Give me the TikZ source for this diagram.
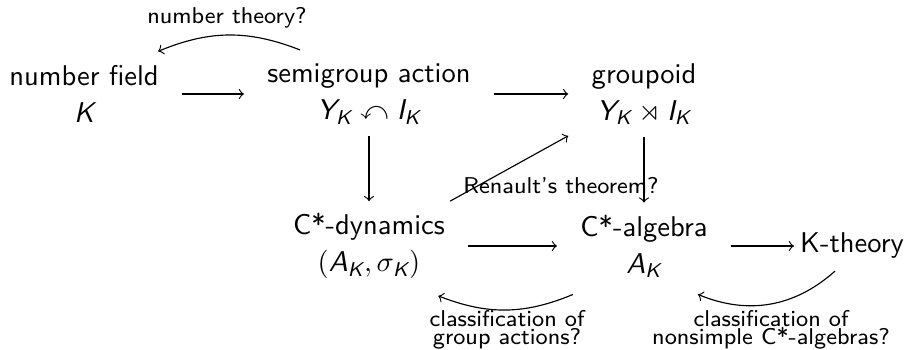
\documentclass[tikz,border=0pt]{standalone}
\usepackage{xcolor}
\usepackage{tikz}
\usepackage{amsmath}
\usepackage{amssymb}
\usetikzlibrary{calc}

\newcommand{\sfm}[1]{\textsf{\slshape #1}}

\begin{document}
\begin{tikzpicture}[x=0.35pt,y=0.35pt,
    every node/.style={font=\sffamily},
    obj/.style={align=center, inner xsep=8pt, inner ysep=4pt},
    single/.style={inner sep=2pt},
    note/.style={font=\sffamily\footnotesize, align=center, inner sep=1pt},
    arr/.style={->}]
    \useasboundingbox (0,0) rectangle (910,-349);
    % objects of the diagram
    \node[obj] (field) at (84,-94) {number field\\[1pt]$\sfm{K}$};
    \node[obj] (action) at (369,-94) {semigroup action\\[1pt]$\sfm{Y}_{\sfm{K}} \curvearrowleft \sfm{I}_{\sfm{K}}$};
    \node[obj] (groupoid) at (644,-94) {groupoid\\[1pt]$\sfm{Y}_{\sfm{K}} \rtimes \sfm{I}_{\sfm{K}}$};
    \node[obj] (dynamics) at (369,-246) {C*-dynamics\\[1pt]$(\sfm{A}_{\sfm{K}}, \sigma_{\sfm{K}})$};
    \node[obj] (algebra) at (644,-246) {C*-algebra\\[1pt]$\sfm{A}_{\sfm{K}}$};
    \node[single] (ktheory) at (852,-246) {K-theory};
    % straight arrows
    \draw[arr] (field) -- (action);
    \draw[arr] (action) -- (groupoid);
    \draw[arr] (action) -- (dynamics);
    \draw[arr] (groupoid) -- (algebra);
    \draw[arr] (dynamics) -- (algebra);
    \draw[arr] (algebra) -- (ktheory);
    \draw[arr] (dynamics) -- (groupoid);
    \node[note] (renault) at (561,-186) {Renault's theorem?};
    % curved arrows with questions
    \draw[arr] ($(action.north west)+(56,2)$) to[bend right=22] ($(field.north east)+(-24,2)$);
    \node[note] (numtheory) at (227,-18) {number theory?};
    \draw[arr] ($(algebra.south west)+(16,-5)$) to[bend left=22] ($(dynamics.south east)+(-30,-5)$);
    \node[note] (groupact) at (507,-330) {classification of\\[-3pt]group actions?};
    \draw[arr] ($(ktheory.south)+(-17,-6)$) to[bend left=32] ($(algebra.south east)+(-33,-5)$);
    \node[note] (nonsimple) at (771,-330) {classification of\\[-3pt]nonsimple C*-algebras?};
\end{tikzpicture}
\end{document}
